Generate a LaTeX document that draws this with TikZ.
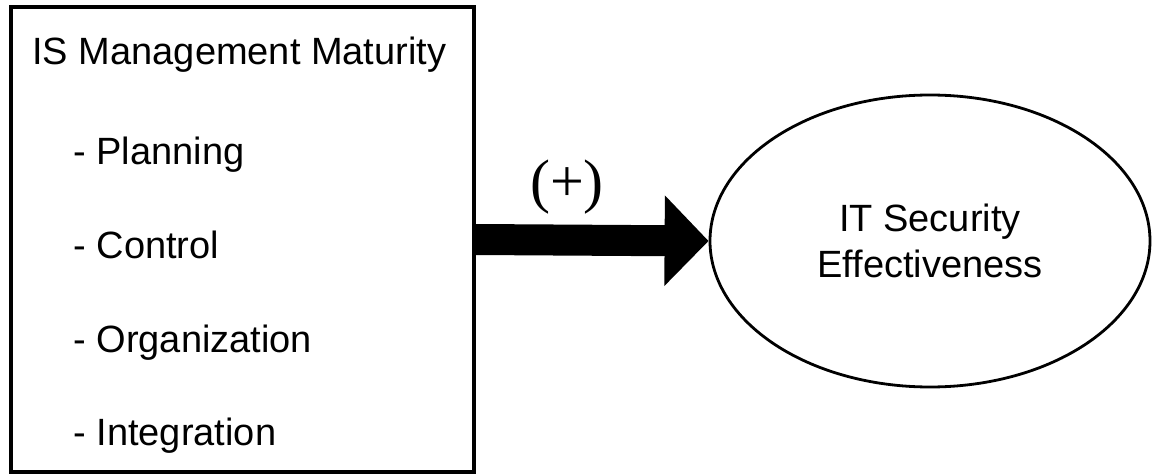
\documentclass[tikz,border=0pt]{standalone}
\usepackage{fontspec}
\setmainfont{Liberation Sans}
\newfontfamily\signfont{Liberation Serif}
\usepackage{tikz}
\usetikzlibrary{arrows.meta,shapes.geometric}
\tikzset{every node/.append style={font=\fontsize{19pt}{23pt}\selectfont}}

\begin{document}
\begin{tikzpicture}[x=0.5pt,y=-0.5pt,
    item/.style={anchor=base west,inner sep=0pt}]
  \useasboundingbox (0,0) rectangle (1152,476);
  \node[draw,line width=1.6pt,minimum width=231.5pt,minimum height=232.5pt,
    inner sep=0pt] (mgmt) at (242.5,239.5) {};
  \node[item] (title) at (32,65) {IS Management Maturity};
  \node[item] (plan) at (73,164) {- Planning};
  \node[item] (ctrl) at (73,258) {- Control};
  \node[item] (org) at (73,352) {- Organization};
  \node[item] (integ) at (73,445) {- Integration};
  \node[draw,ellipse,line width=1.4pt,minimum width=220pt,minimum height=146pt,
    inner sep=0pt,align=center] (eff) at (930,241) {IT Security\\Effectiveness};
  \draw[line width=15.5pt,-{Triangle[length=22pt,width=44pt]}] (mgmt.east) -- (eff.west);
  \node[font=\signfont\fontsize{30pt}{36pt}\selectfont,anchor=base,inner sep=0pt]
    (sign) at (567,201) {(+)};
\end{tikzpicture}
\end{document}
